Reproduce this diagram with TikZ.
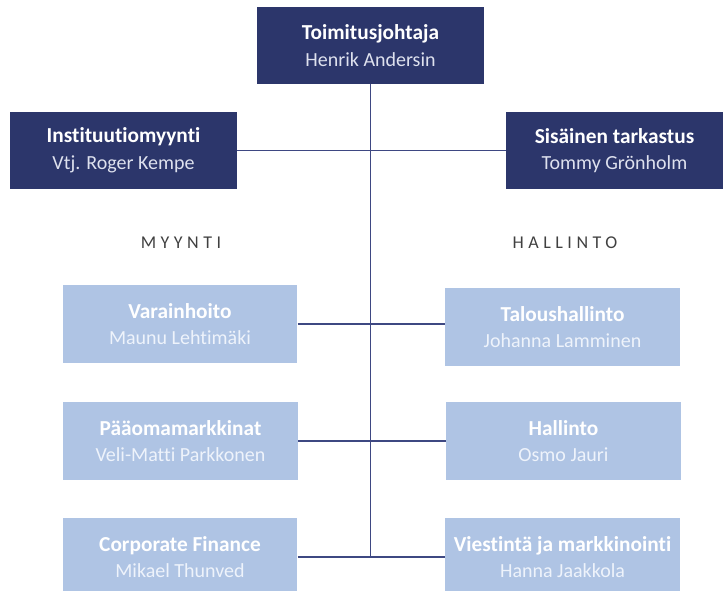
\documentclass[tikz,border=0pt]{standalone}
\usepackage{fontspec}
\setmainfont{Carlito}[Ligatures=NoCommon]
\usetikzlibrary{positioning}

\definecolor{navy}{RGB}{44,54,107}
\definecolor{paleblue}{RGB}{175,196,228}
\definecolor{linecol}{RGB}{62,72,130}
\definecolor{namegrey}{RGB}{222,225,238}
\definecolor{namepale}{RGB}{238,243,251}

\newcommand\orgtitle[2]{{\fontsize{16}{20}\selectfont\textbf{#1}}\\#2}

\begin{document}
\begin{tikzpicture}[
  x=0.75pt, y=-0.75pt,
  every node/.style={inner sep=0pt,align=center,font=\fontsize{15}{20}\selectfont},
  head/.style={fill=navy,text=white,minimum width=170pt,minimum height=57.75pt},
  unit/.style={fill=paleblue,text=white,minimum width=176pt,minimum height=58.5pt},
  sect/.style={font=\fontsize{13.5}{15}\selectfont\addfontfeature{LetterSpace=25},text=black!75},
  link/.style={draw=linecol,line width=0.8pt},
  ]
  \useasboundingbox (0,0) rectangle (724,591);

  \node[head] (ceo) at (370.5,45.5) {\orgtitle{Toimitusjohtaja}{\color{namegrey}Henrik Andersin}};
  \node[head] (inst) at (123.5,150.5) {\orgtitle{Instituutiomyynti}{\color{namegrey}Vtj. Roger Kempe}};
  \node[head, minimum width=162.75pt] (sis) at (614.5,150.5) {\orgtitle{Sisäinen tarkastus}{\color{namegrey}Tommy Grönholm}};

  \node[sect] (myynti) at (181,243) {MYYNTI};
  \node[sect] (hallinto) at (565,243) {HALLINTO};

  \node[unit] (var) at (180,324) {\orgtitle{Varainhoito}{\color{namepale}Maunu Lehtimäki}};
  \node[unit] (tal) at (562.5,327) {\orgtitle{Taloushallinto}{\color{namepale}Johanna Lamminen}};
  \node[unit] (paa) at (180.5,441) {\orgtitle{Pääomamarkkinat}{\color{namepale}Veli-Matti Parkkonen}};
  \node[unit] (hal) at (563.5,441) {\orgtitle{Hallinto}{\color{namepale}Osmo Jauri}};
  \node[unit] (cf) at (180,557) {\orgtitle{Corporate Finance}{\color{namepale}Mikael Thunved}};
  \node[unit] (vie) at (562.5,557) {\orgtitle{Viestintä ja markkinointi}{\color{namepale}Hanna Jaakkola}};

  \draw[link] (ceo.south) -- (ceo.south |- cf.east);
  \draw[link] (inst.east) -- (sis.west);
  \draw[link] (var.east) -- (var.east -| tal.west);
  \draw[link] (paa.east) -- (hal.west);
  \draw[link] (cf.east) -- (vie.west);

\end{tikzpicture}
\end{document}
